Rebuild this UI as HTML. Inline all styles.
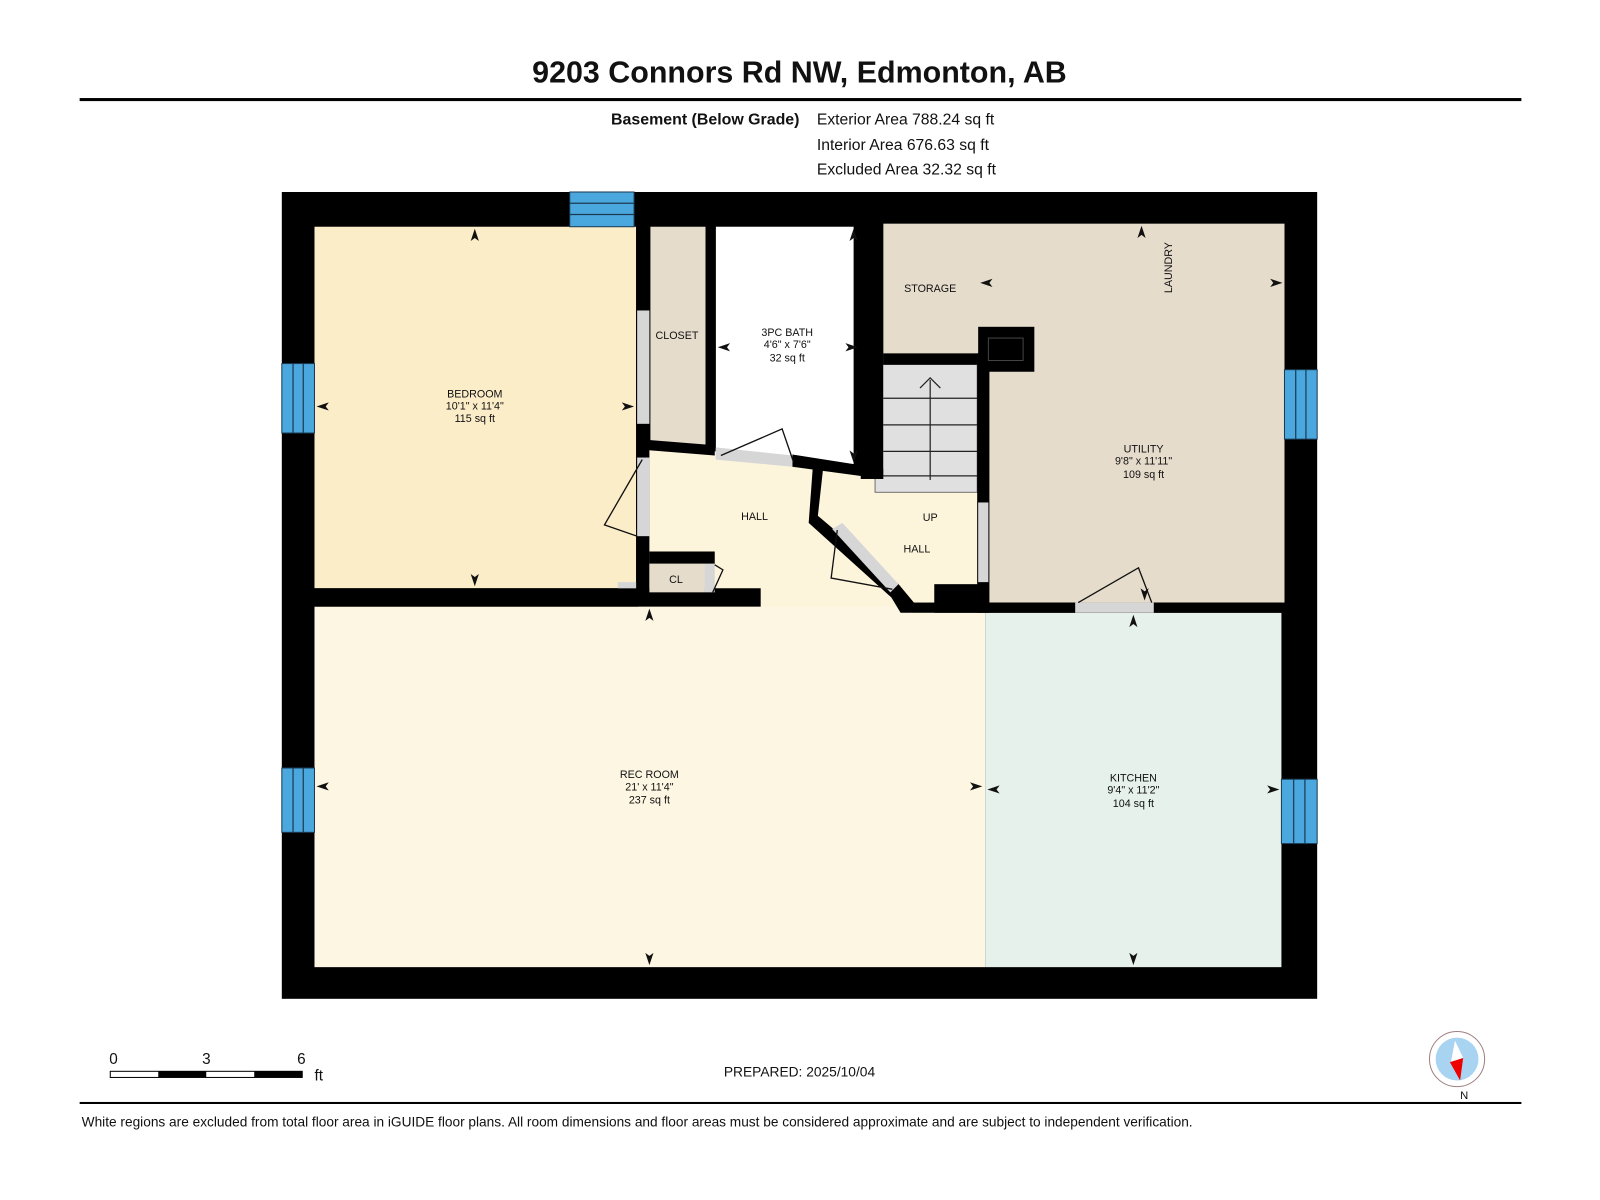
<!DOCTYPE html>
<html><head><meta charset="utf-8"><style>
html,body{margin:0;padding:0;background:#fff;}
svg{display:block;}
text{font-family:"Liberation Sans",Arial,sans-serif;fill:#111;}
</style></head><body>
<svg width="1600" height="1200" viewBox="0 0 1567 1175" preserveAspectRatio="none" xmlns="http://www.w3.org/2000/svg">
<rect width="1567" height="1175" fill="#fff"/>
<text x="783" y="81" font-size="29.8" font-weight="bold" text-anchor="middle">9203 Connors Rd NW, Edmonton, AB</text>
<rect x="78" y="96" width="1412" height="3" fill="#000"/>
<text x="783" y="122" font-size="15.6" font-weight="bold" text-anchor="end">Basement (Below Grade)</text>
<text x="800" y="122" font-size="15.4">Exterior Area 788.24 sq ft</text>
<text x="800" y="147" font-size="15.4">Interior Area 676.63 sq ft</text>
<text x="800" y="171" font-size="15.4">Excluded Area 32.32 sq ft</text>

<rect x="276" y="188" width="1014" height="790" fill="#000"/>
<rect x="308" y="222" width="315" height="354" fill="#fcedc9"/>
<rect x="637" y="222" width="54" height="214" fill="#e6dccc"/>
<rect x="701" y="222" width="135" height="233" fill="#fff"/>
<rect x="865" y="219" width="393" height="371" fill="#e6dccc"/>
<polygon points="625,440 700,442 865,467 957,470 969,572 965,600 625,600" fill="#fdf4dc"/>
<rect x="308" y="594" width="657" height="353" fill="#fdf6e2"/>
<rect x="965" y="600" width="290" height="347" fill="#e5f1ea"/>
<rect x="857" y="357" width="100" height="125" fill="#e0e0e0" stroke="#555" stroke-width="0.8"/>
<g stroke="#222" stroke-width="1.2">
<line x1="865" y1="390" x2="957" y2="390"/><line x1="865" y1="416" x2="957" y2="416"/>
<line x1="865" y1="442" x2="957" y2="442"/><line x1="865" y1="466" x2="957" y2="466"/>
<line x1="911" y1="470" x2="911" y2="372"/><polyline points="901,380 911,370 921,380" fill="none"/>
</g>
<g fill="#000">
<rect x="623" y="222" width="13" height="360"/>
<rect x="691" y="222" width="10" height="218"/>
<rect x="843" y="219" width="22" height="250"/>
<rect x="865" y="346" width="104" height="11"/>
<rect x="957" y="346" width="12" height="254"/>
<rect x="958" y="320" width="55" height="44"/>
<rect x="308" y="576" width="437" height="18"/>
<rect x="893" y="590" width="362" height="10"/>
<rect x="915" y="572" width="50" height="28"/>
<rect x="636" y="540" width="64" height="12"/>
<polygon points="625,430 700,436 700,446 625,440"/>
<polygon points="776,445 865,459 865,469 776,457"/>
<polygon points="796,458 806,460 801,505 880,572 895,590 893,600 882,600 873,585 792,512"/>
</g>
<rect x="968" y="331" width="34" height="22" fill="none" stroke="#444" stroke-width="1"/>
<g fill="#d6d6d6">
<rect x="624" y="304" width="12" height="111"/>
<rect x="624" y="448" width="12" height="77"/>
<rect x="958" y="492" width="10" height="78"/>
<rect x="1053" y="590" width="77" height="10"/>
<polygon points="701,438 776,446 776,457 701,450"/>
<polygon points="815,518 825,512 880,572 872,580"/>
<rect x="690" y="552" width="10" height="28"/>
<rect x="605" y="570" width="18" height="6"/>
</g>
<rect x="636" y="552" width="54" height="28" fill="#e6dccc"/>
<g fill="none" stroke="#111" stroke-width="1.3">
<polyline points="629,450 592,514 624,525"/>
<polyline points="706,446 766,420 777,452"/>
<polyline points="874,577 814,566 820,519"/>
<polyline points="1056,590 1115,556 1128,590"/>
<polyline points="698,580 708,558 700,553"/>
</g>
<g fill="#4aa8de" stroke="#1d3a52" stroke-width="1">
<rect x="558" y="188" width="63" height="34"/>
<rect x="276" y="356" width="32" height="68"/>
<rect x="276" y="752" width="32" height="63"/>
<rect x="1258" y="362" width="32" height="68"/>
<rect x="1255" y="763" width="35" height="63"/>
</g>
<g stroke="#1d3a52" stroke-width="1.2">
<line x1="558" y1="199" x2="621" y2="199"/><line x1="558" y1="210" x2="621" y2="210"/>
<line x1="287" y1="356" x2="287" y2="424"/><line x1="297" y1="356" x2="297" y2="424"/>
<line x1="287" y1="752" x2="287" y2="815"/><line x1="297" y1="752" x2="297" y2="815"/>
<line x1="1269" y1="362" x2="1269" y2="430"/><line x1="1279" y1="362" x2="1279" y2="430"/>
<line x1="1267" y1="763" x2="1267" y2="826"/><line x1="1278" y1="763" x2="1278" y2="826"/>
</g>
<g fill="#111">
<polygon points="465,224 461,236 465,233 469,236"/>
<polygon points="465,574 461,562 465,565 469,562"/>
<polygon points="310,398 322,394 319,398 322,402"/>
<polygon points="621,398 609,394 612,398 609,402"/>
<polygon points="836,224 832,236 836,233 840,236"/>
<polygon points="836,453 832,441 836,444 840,441"/>
<polygon points="703,340 715,336 712,340 715,344"/>
<polygon points="840,340 828,336 831,340 828,344"/>
<polygon points="960,277 972,273 969,277 972,281"/>
<polygon points="1256,277 1244,273 1247,277 1244,281"/>
<polygon points="1118,221 1114,233 1118,230 1122,233"/>
<polygon points="1121,588 1117,576 1121,579 1125,576"/>
<polygon points="1110,602 1106,614 1110,611 1114,614"/>
<polygon points="636,596 632,608 636,605 640,608"/>
<polygon points="310,770 322,766 319,770 322,774"/>
<polygon points="962,770 950,766 953,770 950,774"/>
<polygon points="967,773 979,769 976,773 979,777"/>
<polygon points="1253,773 1241,769 1244,773 1241,777"/>
<polygon points="636,945 632,933 636,936 640,933"/>
<polygon points="1110,945 1106,933 1110,936 1114,933"/>
</g>
<g font-size="10.5" text-anchor="middle">
<text x="465" y="389">BEDROOM</text><text x="465" y="401">10'1" x 11'4"</text><text x="465" y="413">115 sq ft</text>
<text x="663" y="332">CLOSET</text>
<text x="771" y="329">3PC BATH</text><text x="771" y="341">4'6" x 7'6"</text><text x="771" y="354">32 sq ft</text>
<text x="911" y="286">STORAGE</text>
<text x="1120" y="443">UTILITY</text><text x="1120" y="455">9'8" x 11'11"</text><text x="1120" y="468">109 sq ft</text>
<text x="739" y="509">HALL</text>
<text x="911" y="510">UP</text>
<text x="898" y="541">HALL</text>
<text x="662" y="571">CL</text>
<text x="636" y="762">REC ROOM</text><text x="636" y="774">21' x 11'4"</text><text x="636" y="787">237 sq ft</text>
<text x="1110" y="765">KITCHEN</text><text x="1110" y="777">9'4" x 11'2"</text><text x="1110" y="790">104 sq ft</text>
<text x="1148" y="262" transform="rotate(-90 1148 262)">LAUNDRY</text>
</g>
<rect x="108" y="1049" width="188" height="6" fill="#fff" stroke="#000" stroke-width="1"/>
<rect x="155" y="1049" width="47" height="6" fill="#000"/>
<rect x="249" y="1049" width="47" height="6" fill="#000"/>
<g font-size="15"><text x="107" y="1042">0</text><text x="198" y="1042">3</text><text x="291" y="1042">6</text><text x="308" y="1058">ft</text></g>
<text x="783" y="1054" font-size="13.5" text-anchor="middle">PREPARED: 2025/10/04</text>
<circle cx="1427" cy="1037" r="27" fill="#fff" stroke="#a08080" stroke-width="1"/>
<circle cx="1427" cy="1037" r="21" fill="#a8d4f2"/>
<polygon points="1425,1019 1433,1036 1421,1040" fill="#fff"/>
<polygon points="1420,1040 1433,1036 1430,1058" fill="#e00"/>
<text x="1434" y="1076" font-size="11" text-anchor="middle">N</text>
<rect x="78" y="1079" width="1412" height="2" fill="#000"/>
<text x="80" y="1103" font-size="13.4">White regions are excluded from total floor area in iGUIDE floor plans. All room dimensions and floor areas must be considered approximate and are subject to independent verification.</text>
</svg>
</body></html>
